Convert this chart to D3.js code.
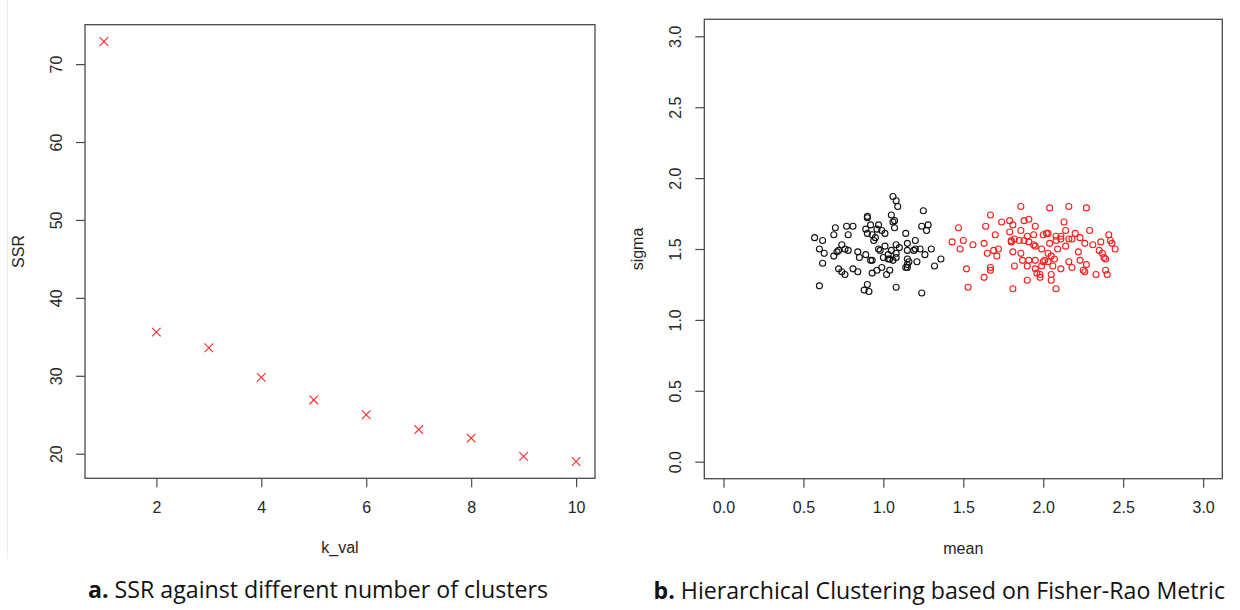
<!DOCTYPE html>
<html>
<head>
<meta charset="utf-8">
<script src="https://cdn.jsdelivr.net/npm/d3@7"></script>
<style>
  html, body { margin: 0; padding: 0; background: #fff; }
  svg { display: block; }
</style>
</head>
<body>
<svg id="fig" width="1240" height="610"></svg>
<script>
// ---- Panel a: within-cluster SSR for k = 1..10 ----
const kVal = [1, 2, 3, 4, 5, 6, 7, 8, 9, 10];
const ssr = [72.9, 35.6, 33.6, 29.8, 26.9, 25.0, 23.1, 22.0, 19.65, 19.0];
const kTicks = [2, 4, 6, 8, 10];
const ssrTicks = [20, 30, 40, 50, 60, 70];

// ---- Panel b: (mean, sigma) of each fitted distribution, by cluster ----
const cluster1Mean = [1.06, 1.08, 1.09, 1.25, 1.05, 0.90, 0.90, 1.07, 1.06, 0.70,
  0.77, 0.81, 0.89, 0.92, 0.97, 0.96, 0.99, 1.01, 1.07, 1.24,
  1.28, 1.27, 0.57, 0.62, 0.69, 0.78, 0.90, 0.93, 0.95, 0.94,
  1.14, 0.74, 0.60, 0.63, 0.72, 0.71, 0.76, 0.78, 0.69, 0.84,
  0.89, 0.85, 0.92, 0.93, 0.97, 0.98, 1.01, 1.08, 1.10, 1.05,
  1.08, 1.03, 1.00, 1.04, 1.08, 1.06, 1.03, 1.15, 1.20, 1.15,
  1.20, 1.23, 1.19, 1.30, 1.26, 1.21, 1.15, 1.16, 1.14, 1.15,
  0.62, 1.36, 1.32, 0.72, 0.74, 0.76, 0.81, 0.84, 0.93, 0.96,
  0.99, 1.04, 1.02, 1.15, 0.60, 0.90, 0.88, 0.91, 1.08, 1.24];
const cluster1Sigma = [1.87, 1.84, 1.80, 1.77, 1.74, 1.73, 1.72, 1.70, 1.69, 1.65,
  1.66, 1.66, 1.64, 1.67, 1.67, 1.64, 1.63, 1.61, 1.65, 1.66,
  1.67, 1.63, 1.58, 1.56, 1.60, 1.60, 1.61, 1.60, 1.58, 1.56,
  1.61, 1.53, 1.50, 1.47, 1.49, 1.48, 1.50, 1.49, 1.45, 1.48,
  1.46, 1.44, 1.42, 1.42, 1.50, 1.49, 1.52, 1.53, 1.51, 1.49,
  1.47, 1.46, 1.44, 1.43, 1.44, 1.42, 1.43, 1.54, 1.56, 1.49,
  1.50, 1.50, 1.49, 1.50, 1.46, 1.41, 1.43, 1.41, 1.37, 1.39,
  1.40, 1.43, 1.38, 1.36, 1.34, 1.32, 1.36, 1.34, 1.33, 1.35,
  1.37, 1.35, 1.32, 1.37, 1.24, 1.25, 1.21, 1.20, 1.23, 1.19];

const cluster2Mean = [1.86, 2.04, 2.16, 2.27, 1.67, 1.74, 1.79, 1.81, 1.88, 1.91,
  1.95, 2.13, 1.47, 1.64, 1.70, 1.79, 1.86, 1.82, 1.85, 1.90,
  1.94, 2.00, 2.03, 2.02, 2.08, 2.11, 2.14, 2.20, 2.29, 2.41,
  1.43, 1.50, 1.56, 1.63, 1.80, 1.80, 1.88, 1.91, 1.94, 1.95,
  1.99, 2.04, 2.08, 2.11, 2.16, 2.18, 2.23, 2.26, 2.31, 2.36,
  2.42, 2.43, 1.48, 1.65, 1.69, 1.72, 1.71, 1.81, 1.86, 2.03,
  2.05, 2.09, 2.14, 2.22, 2.35, 2.37, 2.38, 2.39, 2.45, 1.87,
  1.91, 1.95, 2.01, 2.03, 2.07, 1.82, 1.90, 1.95, 1.99, 2.00,
  2.06, 2.11, 2.16, 2.18, 2.23, 2.27, 2.25, 2.26, 1.52, 1.67,
  1.67, 1.63, 1.98, 1.98, 1.96, 2.05, 2.33, 2.39, 2.40, 1.90,
  2.05, 1.53, 1.81, 2.08];
const cluster2Sigma = [1.80, 1.79, 1.80, 1.79, 1.74, 1.69, 1.70, 1.67, 1.70, 1.71,
  1.66, 1.69, 1.65, 1.66, 1.60, 1.62, 1.63, 1.57, 1.56, 1.59,
  1.60, 1.60, 1.61, 1.61, 1.59, 1.59, 1.63, 1.61, 1.63, 1.60,
  1.55, 1.56, 1.53, 1.54, 1.56, 1.55, 1.56, 1.55, 1.53, 1.52,
  1.50, 1.54, 1.56, 1.57, 1.57, 1.57, 1.58, 1.54, 1.53, 1.55,
  1.56, 1.54, 1.50, 1.47, 1.49, 1.50, 1.45, 1.48, 1.47, 1.47,
  1.45, 1.50, 1.52, 1.48, 1.49, 1.47, 1.44, 1.43, 1.50, 1.42,
  1.42, 1.42, 1.42, 1.41, 1.43, 1.38, 1.38, 1.36, 1.38, 1.41,
  1.38, 1.36, 1.41, 1.37, 1.42, 1.39, 1.35, 1.34, 1.36, 1.37,
  1.35, 1.30, 1.32, 1.30, 1.33, 1.32, 1.32, 1.35, 1.32, 1.28,
  1.28, 1.23, 1.22, 1.22];
const meanTicks = [0, 0.5, 1, 1.5, 2, 2.5, 3];
const sigmaTicks = [0, 0.5, 1, 1.5, 2, 2.5, 3];

const captionA = ["a.", " SSR against different number of clusters"];
const captionB = ["b.", " Hierarchical Clustering based on Fisher-Rao Metric"];

// ---- helpers ----
// base-R style axis limits: data range padded by 4% on each side
function padRange(lo, hi) { const d = (hi - lo) * 0.04; return [lo - d, hi + d]; }

const svg = d3.select("#fig");
const FONT = "'Liberation Sans', Arial, Helvetica, sans-serif";
const AXIS_COL = "#4a4a4a";
const TEXT_COL = "#262626";
const LABEL_SIZE = "16px";

// faint frame edge on the left of the first figure
svg.append("line")
  .attr("x1", 7.5).attr("x2", 7.5).attr("y1", 0).attr("y2", 559)
  .attr("stroke", "#ececec").attr("stroke-width", 1);

function drawPanel(opts) {
  const { box, x, y, xTicks, yTicks, fmt, xTitle, yTitle } = opts;
  const g = svg.append("g");

  // bottom axis
  const ax = g.append("g").attr("transform", `translate(0,${box.y1})`)
    .call(d3.axisBottom(x).tickValues(xTicks).tickSize(9).tickFormat(fmt));
  ax.select(".domain").remove();
  ax.selectAll(".tick line").attr("stroke", AXIS_COL).attr("stroke-width", 1.2);
  ax.selectAll(".tick text")
    .attr("y", 29).attr("dy", "0.35em")
    .attr("fill", TEXT_COL).style("font-family", FONT).style("font-size", LABEL_SIZE);

  // left axis, labels parallel to the axis
  const ay = g.append("g").attr("transform", `translate(${box.x0},0)`)
    .call(d3.axisLeft(y).tickValues(yTicks).tickSize(9).tickFormat(fmt));
  ay.select(".domain").remove();
  ay.selectAll(".tick line").attr("stroke", AXIS_COL).attr("stroke-width", 1.2);
  ay.selectAll(".tick text")
    .attr("x", 0).attr("dx", null).attr("dy", "0.35em")
    .attr("transform", "translate(-29,0) rotate(-90)")
    .attr("text-anchor", "middle")
    .attr("fill", TEXT_COL).style("font-family", FONT).style("font-size", LABEL_SIZE);

  // plot frame
  g.append("rect")
    .attr("x", box.x0).attr("y", box.y0)
    .attr("width", box.x1 - box.x0).attr("height", box.y1 - box.y0)
    .attr("fill", "none").attr("stroke", AXIS_COL).attr("stroke-width", 1.3);

  // axis titles
  g.append("text")
    .attr("x", (box.x0 + box.x1) / 2).attr("y", box.y1 + 75)
    .attr("text-anchor", "middle")
    .attr("fill", TEXT_COL).style("font-family", FONT).style("font-size", LABEL_SIZE)
    .text(xTitle);
  g.append("text")
    .attr("transform", `translate(${box.x0 - 61},${(box.y0 + box.y1) / 2}) rotate(-90)`)
    .attr("text-anchor", "middle")
    .attr("fill", TEXT_COL).style("font-family", FONT).style("font-size", LABEL_SIZE)
    .text(yTitle);
  return g;
}

// ---- panel a ----
const boxA = { x0: 85, x1: 595, y0: 24.7, y1: 478.3 };
const xA = d3.scaleLinear().domain(padRange(d3.min(kVal), d3.max(kVal))).range([boxA.x0, boxA.x1]);
const yA = d3.scaleLinear().domain(padRange(d3.min(ssr), d3.max(ssr))).range([boxA.y1, boxA.y0]);
const gA = drawPanel({ box: boxA, x: xA, y: yA, xTicks: kTicks, yTicks: ssrTicks,
  fmt: d3.format("d"), xTitle: "k_val", yTitle: "SSR" });

const cross = 4.3;
gA.append("g").selectAll("path")
  .data(kVal.map((k, i) => [k, ssr[i]]))
  .join("path")
  .attr("transform", d => `translate(${xA(d[0])},${yA(d[1])})`)
  .attr("d", `M${-cross},${-cross}L${cross},${cross}M${-cross},${cross}L${cross},${-cross}`)
  .attr("fill", "none").attr("stroke", "#ff2a2a").attr("stroke-width", 1.1);

// ---- panel b ----
const boxB = { x0: 704.3, x1: 1222.3, y0: 19.3, y1: 478.7 };
const xB = d3.scaleLinear().domain(padRange(0, 3)).range([boxB.x0, boxB.x1]);
const yB = d3.scaleLinear().domain(padRange(0, 3)).range([boxB.y1, boxB.y0]);
const gB = drawPanel({ box: boxB, x: xB, y: yB, xTicks: meanTicks, yTicks: sigmaTicks,
  fmt: d3.format(".1f"), xTitle: "mean", yTitle: "sigma" });

function drawCluster(means, sigmas, color) {
  gB.append("g").selectAll("circle")
    .data(means.map((m, i) => [m, sigmas[i]]))
    .join("circle")
    .attr("cx", d => xB(d[0])).attr("cy", d => yB(d[1]))
    .attr("r", 3)
    .attr("fill", "none").attr("stroke", color).attr("stroke-width", 1.1);
}
drawCluster(cluster1Mean, cluster1Sigma, "#111");
drawCluster(cluster2Mean, cluster2Sigma, "#ff1a1a");

// ---- captions ----
function caption(parts, x, y, width) {
  const t = svg.append("text")
    .attr("x", x).attr("y", y)
    .attr("fill", "#111")
    .style("font-family", "'Open Sans', 'Noto Sans', sans-serif")
    .style("font-size", "23px");
  t.append("tspan").style("font-weight", "700").text(parts[0]);
  t.append("tspan").text(parts[1]);
  t.attr("textLength", width).attr("lengthAdjust", "spacingAndGlyphs");
}
caption(captionA, 88, 598.3, 460);
caption(captionB, 653.5, 599.3, 571.5);
</script>
</body>
</html>
